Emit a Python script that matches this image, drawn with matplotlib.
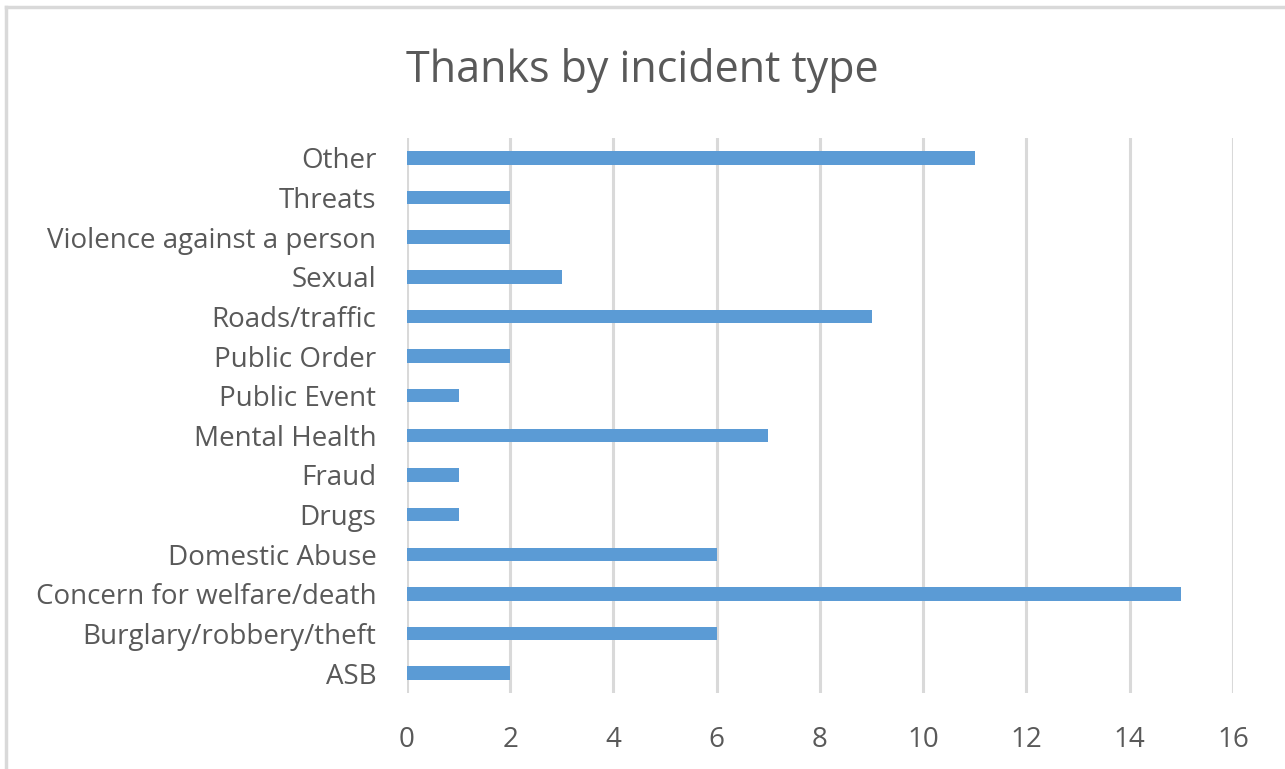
import matplotlib
matplotlib.use("Agg")
import matplotlib.pyplot as plt
from matplotlib.lines import Line2D

# ── 数据 ─────────────────────────────────────────────
categories = [
    "ASB",
    "Burglary/robbery/theft",
    "Concern for welfare/death",
    "Domestic Abuse",
    "Drugs",
    "Fraud",
    "Mental Health",
    "Public Event",
    "Public Order",
    "Roads/traffic",
    "Sexual",
    "Violence against a person",
    "Threats",
    "Other",
]
counts = [2, 6, 15, 6, 1, 1, 7, 1, 2, 9, 3, 2, 2, 11]
x_ticks = [0, 2, 4, 6, 8, 10, 12, 14, 16]

plt.rcParams["font.family"] = ["Open Sans", "DejaVu Sans"]
TEXT = "#595959"
BAR = "#5b9bd5"
GRID = "#d9d9d9"

fig = plt.figure(figsize=(12.85, 7.69), dpi=100)
ax = fig.add_axes([0.3167, 0.0988, 0.6428, 0.7217])

ax.barh(range(len(categories)), counts, height=0.34, color=BAR, zorder=3)

ax.set_xlim(0, 16)
ax.set_ylim(-0.5, len(categories) - 0.5)
ax.set_xticks(x_ticks)
ax.set_yticks(range(len(categories)))
ax.set_yticklabels(categories)

ax.grid(axis="x", color=GRID, linewidth=2.2, zorder=0)
for s in ax.spines.values():
    s.set_visible(False)
ax.tick_params(axis="both", length=0, colors=TEXT, labelsize=20)
ax.tick_params(axis="x", pad=24)
ax.tick_params(axis="y", pad=22)

fig.text(0.5, 0.908, "Thanks by incident type", ha="center", va="center",
         fontsize=31, color=TEXT)

# 截图边框（仅上、左可见）
fig.add_artist(Line2D([0.0043, 1.0], [0.991, 0.991], transform=fig.transFigure,
                      color=GRID, linewidth=2.5))
fig.add_artist(Line2D([0.0043, 0.0043], [0.0, 0.991], transform=fig.transFigure,
                      color=GRID, linewidth=2.5))

fig.savefig("out.png", dpi=100)
